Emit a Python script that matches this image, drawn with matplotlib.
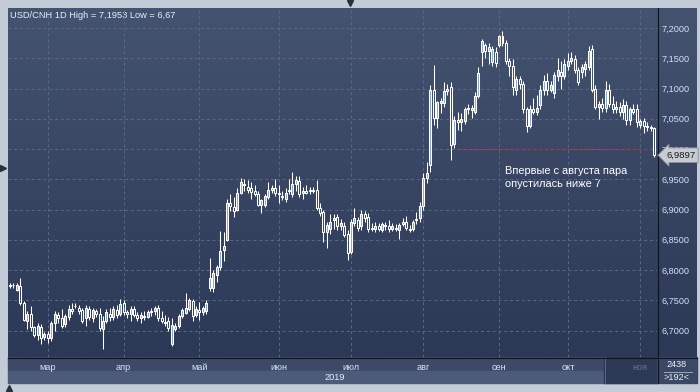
import numpy as np
import matplotlib
matplotlib.use('Agg')
import matplotlib.pyplot as plt
import matplotlib.transforms as mtransforms
from matplotlib.patches import Rectangle
from matplotlib.colors import LinearSegmentedColormap
from matplotlib.ticker import FixedLocator, FuncFormatter

plt.rcParams['font.family'] = ['Liberation Sans', 'DejaVu Sans']

# Дневные свечи USD/CNH
opn = [6.776, 6.775, 6.767, 6.774, 6.745, 6.716, 6.728, 6.705, 6.692, 6.705,
       6.690, 6.694, 6.688, 6.712, 6.726, 6.720, 6.710, 6.722, 6.736, 6.740,
       6.738, 6.734, 6.720, 6.736, 6.720, 6.732, 6.728, 6.703, 6.716, 6.728,
       6.722, 6.734, 6.728, 6.745, 6.730, 6.728, 6.735, 6.726, 6.720, 6.724,
       6.722, 6.730, 6.732, 6.738, 6.720, 6.714, 6.716, 6.678, 6.702, 6.708,
       6.724, 6.729, 6.736, 6.748, 6.726, 6.734, 6.730, 6.732, 6.770, 6.770,
       6.792, 6.805, 6.833, 6.850, 6.910, 6.904, 6.900, 6.928, 6.942, 6.938,
       6.935, 6.930, 6.925, 6.908, 6.907, 6.921, 6.933, 6.936, 6.928, 6.922,
       6.918, 6.930, 6.925, 6.942, 6.947, 6.928, 6.930, 6.930, 6.931, 6.933,
       6.903, 6.896, 6.862, 6.868, 6.882, 6.888, 6.872, 6.872, 6.860, 6.830,
       6.878, 6.883, 6.872, 6.893, 6.888, 6.870, 6.868, 6.872, 6.866, 6.875,
       6.872, 6.868, 6.870, 6.866, 6.876, 6.880, 6.868, 6.868, 6.882, 6.886,
       6.905, 6.952, 6.974, 7.098, 7.052, 7.076, 7.076, 7.096, 7.102, 7.008,
       7.048, 7.044, 7.046, 7.066, 7.064, 7.062, 7.088, 7.160, 7.172, 7.162,
       7.144, 7.160, 7.172, 7.186, 7.175, 7.145, 7.138, 7.098, 7.115, 7.108,
       7.066, 7.038, 7.066, 7.062, 7.072, 7.098, 7.112, 7.098, 7.092, 7.120,
       7.128, 7.120, 7.138, 7.145, 7.148, 7.130, 7.128, 7.132, 7.136, 7.166,
       7.100, 7.070, 7.075, 7.068, 7.098, 7.075, 7.066, 7.070, 7.062, 7.072,
       7.048, 7.066, 7.066, 7.040, 7.046, 7.038, 7.036, 7.034]
high = [6.778, 6.779, 6.778, 6.787, 6.748, 6.733, 6.740, 6.708, 6.712, 6.710,
        6.698, 6.700, 6.716, 6.733, 6.730, 6.735, 6.728, 6.742, 6.745, 6.746,
        6.742, 6.738, 6.742, 6.740, 6.738, 6.736, 6.738, 6.724, 6.736, 6.738,
        6.740, 6.742, 6.752, 6.750, 6.734, 6.740, 6.740, 6.730, 6.730, 6.732,
        6.734, 6.738, 6.740, 6.742, 6.732, 6.726, 6.722, 6.720, 6.712, 6.728,
        6.738, 6.762, 6.754, 6.752, 6.740, 6.747, 6.740, 6.750, 6.820, 6.800,
        6.808, 6.864, 6.862, 6.918, 6.925, 6.920, 6.935, 6.952, 6.950, 6.948,
        6.945, 6.940, 6.930, 6.918, 6.925, 6.945, 6.940, 6.950, 6.940, 6.930,
        6.935, 6.950, 6.962, 6.955, 6.955, 6.938, 6.940, 6.938, 6.937, 6.948,
        6.910, 6.900, 6.880, 6.893, 6.893, 6.893, 6.885, 6.880, 6.866, 6.885,
        6.902, 6.888, 6.900, 6.898, 6.895, 6.878, 6.880, 6.878, 6.880, 6.880,
        6.882, 6.878, 6.876, 6.878, 6.886, 6.890, 6.874, 6.882, 6.896, 6.912,
        6.960, 6.978, 7.106, 7.139, 7.080, 7.085, 7.110, 7.108, 7.110, 7.055,
        7.062, 7.060, 7.070, 7.074, 7.072, 7.095, 7.135, 7.182, 7.176, 7.176,
        7.170, 7.168, 7.189, 7.1953, 7.180, 7.150, 7.148, 7.120, 7.120, 7.112,
        7.070, 7.072, 7.085, 7.090, 7.105, 7.122, 7.125, 7.112, 7.128, 7.150,
        7.145, 7.148, 7.158, 7.160, 7.155, 7.135, 7.140, 7.145, 7.170, 7.172,
        7.105, 7.080, 7.085, 7.112, 7.108, 7.088, 7.080, 7.078, 7.082, 7.080,
        7.070, 7.075, 7.075, 7.050, 7.052, 7.045, 7.040, 7.036]
low = [6.770, 6.770, 6.765, 6.742, 6.715, 6.703, 6.700, 6.690, 6.684, 6.678,
       6.684, 6.680, 6.682, 6.700, 6.712, 6.704, 6.706, 6.718, 6.728, 6.738,
       6.728, 6.712, 6.708, 6.718, 6.714, 6.722, 6.700, 6.670, 6.712, 6.716,
       6.718, 6.720, 6.724, 6.726, 6.720, 6.716, 6.722, 6.716, 6.712, 6.718,
       6.720, 6.724, 6.726, 6.716, 6.712, 6.708, 6.700, 6.674, 6.700, 6.704,
       6.720, 6.727, 6.732, 6.715, 6.722, 6.718, 6.726, 6.728, 6.766, 6.764,
       6.780, 6.800, 6.815, 6.848, 6.898, 6.888, 6.898, 6.925, 6.930, 6.928,
       6.918, 6.922, 6.905, 6.895, 6.904, 6.918, 6.928, 6.922, 6.910, 6.915,
       6.912, 6.925, 6.920, 6.930, 6.920, 6.918, 6.925, 6.926, 6.927, 6.900,
       6.890, 6.846, 6.836, 6.860, 6.868, 6.866, 6.866, 6.855, 6.817, 6.826,
       6.872, 6.865, 6.866, 6.880, 6.862, 6.864, 6.862, 6.864, 6.862, 6.866,
       6.862, 6.864, 6.864, 6.852, 6.872, 6.866, 6.862, 6.864, 6.876, 6.880,
       6.900, 6.944, 6.962, 7.040, 7.035, 7.060, 7.070, 7.090, 6.982, 7.002,
       7.032, 7.030, 7.042, 7.058, 7.052, 7.058, 7.085, 7.138, 7.150, 7.140,
       7.138, 7.136, 7.168, 7.170, 7.140, 7.120, 7.090, 7.090, 7.100, 7.060,
       7.028, 7.034, 7.058, 7.056, 7.066, 7.090, 7.090, 7.094, 7.085, 7.112,
       7.100, 7.115, 7.130, 7.140, 7.125, 7.105, 7.118, 7.120, 7.130, 7.095,
       7.066, 7.050, 7.062, 7.062, 7.070, 7.060, 7.060, 7.055, 7.050, 7.040,
       7.040, 7.058, 7.036, 7.035, 7.026, 7.030, 7.030, 6.986]
close = [6.774, 6.776, 6.776, 6.745, 6.717, 6.728, 6.705, 6.692, 6.708, 6.688,
         6.694, 6.688, 6.712, 6.728, 6.720, 6.708, 6.724, 6.736, 6.732, 6.741,
         6.733, 6.715, 6.738, 6.722, 6.734, 6.728, 6.704, 6.716, 6.730, 6.722,
         6.736, 6.726, 6.744, 6.731, 6.728, 6.736, 6.726, 6.721, 6.726, 6.722,
         6.730, 6.733, 6.737, 6.720, 6.716, 6.712, 6.704, 6.709, 6.707, 6.724,
         6.734, 6.737, 6.750, 6.724, 6.735, 6.730, 6.737, 6.745, 6.786, 6.795,
         6.805, 6.832, 6.840, 6.910, 6.905, 6.898, 6.927, 6.945, 6.940, 6.933,
         6.929, 6.926, 6.908, 6.915, 6.922, 6.933, 6.936, 6.928, 6.925, 6.920,
         6.928, 6.932, 6.942, 6.948, 6.925, 6.930, 6.928, 6.932, 6.933, 6.903,
         6.895, 6.862, 6.875, 6.880, 6.886, 6.872, 6.878, 6.858, 6.828, 6.880,
         6.886, 6.870, 6.892, 6.886, 6.867, 6.868, 6.872, 6.868, 6.876, 6.872,
         6.868, 6.872, 6.868, 6.875, 6.880, 6.870, 6.866, 6.880, 6.884, 6.905,
         6.952, 6.960, 7.098, 7.052, 7.078, 7.080, 7.096, 7.100, 7.007, 7.048,
         7.044, 7.050, 7.066, 7.068, 7.068, 7.087, 7.125, 7.178, 7.162, 7.168,
         7.166, 7.142, 7.186, 7.175, 7.145, 7.138, 7.102, 7.115, 7.108, 7.066,
         7.038, 7.066, 7.062, 7.068, 7.098, 7.112, 7.098, 7.106, 7.122, 7.130,
         7.120, 7.140, 7.145, 7.150, 7.130, 7.110, 7.135, 7.140, 7.162, 7.098,
         7.070, 7.075, 7.068, 7.098, 7.075, 7.066, 7.070, 7.062, 7.072, 7.048,
         7.066, 7.062, 7.045, 7.046, 7.038, 7.036, 7.035, 6.9897]

# номер первой свечи каждого месяца и подписи
month_first = [11, 33, 55, 78, 99, 120, 142, 162, 183]
month_labels = ['мар', 'апр', 'май', 'июн', 'июл', 'авг', 'сен', 'окт', 'ноя']
y_ticks = [6.70, 6.75, 6.80, 6.85, 6.90, 6.95, 7.00, 7.05, 7.10, 7.15, 7.20]
ref_level = 7.0
ref_from, ref_to = 131, 185

title = 'USD/CNH 1D High = 7,1953 Low = 6,67'
note = 'Впервые с августа пара\nопустилась ниже 7'
year_label = '2019'
corner_top, corner_bottom = '2438', '>192<'

W, H = 700, 392
fig = plt.figure(figsize=(W / 100, H / 100), dpi=100, facecolor='#c3cbd7')

# фон всей картинки в пикселях
bg = fig.add_axes([0, 0, 1, 1])
cmap = LinearSegmentedColormap.from_list('panel', ['#44536f', '#2b3856'])
bg.imshow(np.linspace(0, 1, 256)[:, None], extent=(8, 697, 357, 8), cmap=cmap, aspect='auto', zorder=0)
bg.add_patch(Rectangle((8, 357), 649, 14, color='#3c4a68'))
bg.add_patch(Rectangle((8, 371), 649, 12, color='#4b5b79'))
bg.add_patch(Rectangle((604, 357), 53, 26, color='#2c3955'))
bg.plot([604.5, 604.5], [357, 383], color='#5a6984', lw=0.7)
bg.add_patch(Rectangle((657, 357), 40, 26, color='#3a4866'))
bg.plot([664, 692], [371.5, 371.5], color='#9aa6ba', lw=0.7)
bg.plot([657.5, 657.5], [8, 383], color='#0d1320', lw=0.8)
bg.plot([8, 697], [357.5, 357.5], color='#0d1320', lw=0.8)
bg.plot([350], [3], marker='v', ms=5, color='#27303e')
bg.plot([3], [168], marker='>', ms=5, color='#27303e')
bg.plot([9], [388], marker='^', ms=5, color='#27303e')
bg.text(10, 15, title, fontsize=6.7, color='#e8eef8', va='center')
bg.text(505, 166, note, fontsize=7.9, color='white', va='top', linespacing=1.35)
bg.text(335, 377, year_label, fontsize=6.6, color='#e8eef8', ha='center', va='center')
bg.text(677, 364.5, corner_top, fontsize=6.6, color='#e8eef8', ha='center', va='center')
bg.text(677, 378, corner_bottom, fontsize=6.6, color='#e8eef8', ha='center', va='center')
bg.set_xlim(0, W)
bg.set_ylim(H, 0)
bg.axis('off')

# свечной график
ax = fig.add_axes([8 / W, (H - 357) / H, 649 / W, 349 / H])
ax.patch.set_visible(False)
o, h, l, c = map(np.array, (opn, high, low, close))
x = np.arange(len(c))
body_lo = np.minimum(o, c)
body_hi = np.maximum(o, c)
fills = ['#8aa6d2' if cc > oo else 'none' for oo, cc in zip(o, c)]
ax.vlines(x, body_hi, h, color='white', lw=0.75, zorder=3)
ax.vlines(x, l, body_lo, color='white', lw=0.75, zorder=3)
ax.bar(x, body_hi - body_lo, bottom=body_lo, width=0.58, color=fills,
       edgecolor='white', linewidth=0.75, zorder=4)
ax.hlines(ref_level, ref_from, ref_to, colors='#f01818', linestyles=(0, (2, 2)), lw=1.0, zorder=2.8)

ax.set_xlim(-0.58, 187.86)
ax.set_ylim(6.6562, 7.2331)
ax.yaxis.tick_right()
ax.yaxis.set_major_locator(FixedLocator(y_ticks))
ax.yaxis.set_major_formatter(FuncFormatter(lambda v, p: f'{v:.4f}'.replace('.', ',')))
ax.set_xticks(month_first)
ax.set_xticklabels(month_labels)
ax.tick_params(axis='y', length=0, pad=3, labelsize=6.6, labelcolor='#d3e1f6')
ax.tick_params(axis='x', length=0, pad=4, labelsize=6.6, labelcolor='#dde5f0')
ax.get_xticklabels()[-1].set_color('#66748e')
ax.grid(True, color='#5a6986', linestyle=(0, (3, 3)), lw=0.7, zorder=1)
for s in ax.spines.values():
    s.set_visible(False)

# метка последней цены
blend = mtransforms.blended_transform_factory(ax.transAxes, ax.transData)
ax.text(1.014, c[-1], f'{c[-1]:.4f}'.replace('.', ','), transform=blend, ha='left', va='center',
        fontsize=6.8, color='#1a1a1a', zorder=10, clip_on=False,
        bbox=dict(boxstyle='larrow,pad=0.3', fc='#c8ccd2', ec='#8a9099', lw=0.6))

fig.savefig('out.png', dpi=100, facecolor=fig.get_facecolor())
